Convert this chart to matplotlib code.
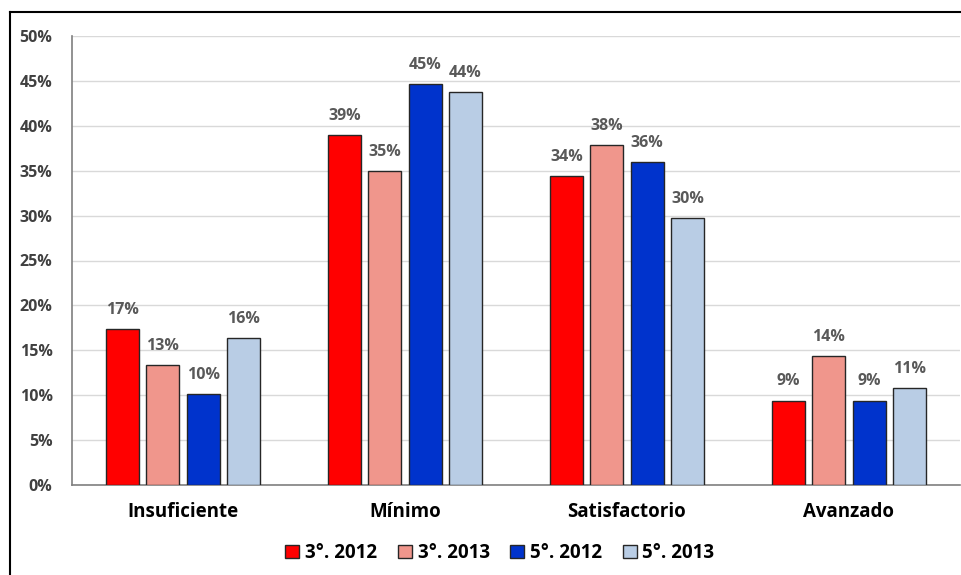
import matplotlib
matplotlib.use("Agg")
import matplotlib.pyplot as plt
from matplotlib.lines import Line2D
import numpy as np

categories = ["Insuficiente", "Mínimo", "Satisfactorio", "Avanzado"]
series_names = ["3°. 2012", "3°. 2013", "5°. 2012", "5°. 2013"]
v_3_2012 = [17.4, 39.0, 34.4, 9.4]
v_3_2013 = [13.4, 35.0, 37.9, 14.4]
v_5_2012 = [10.1, 44.6, 36.0, 9.4]
v_5_2013 = [16.4, 43.8, 29.7, 10.8]
labels_3_2012 = ["17%", "39%", "34%", "9%"]
labels_3_2013 = ["13%", "35%", "38%", "14%"]
labels_5_2012 = ["10%", "45%", "36%", "9%"]
labels_5_2013 = ["16%", "44%", "30%", "11%"]
yticks = [0, 5, 10, 15, 20, 25, 30, 35, 40, 45, 50]
ytick_labels = ["0%", "5%", "10%", "15%", "20%", "25%", "30%", "35%", "40%", "45%", "50%"]

series = [v_3_2012, v_3_2013, v_5_2012, v_5_2013]
labels = [labels_3_2012, labels_3_2013, labels_5_2012, labels_5_2013]
colors = ["#FF0000", "#F0968C", "#0033CC", "#B9CDE5"]

plt.rcParams['font.family'] = ['Open Sans', 'DejaVu Sans']

fig = plt.figure(figsize=(9.62, 5.75), dpi=100)
ax = fig.add_axes([72/962, 1-485/575, (960-72)/962, (485-36)/575])

x = np.arange(len(categories))
step = 0.182
width = 0.15
for i, (vals, labs, col, name) in enumerate(zip(series, labels, colors, series_names)):
    pos = x + (i - 1.5) * step
    bars = ax.bar(pos, vals, width, color=col, edgecolor="#262626", linewidth=1.0, label=name, zorder=3)
    for b, lab in zip(bars, labs):
        ax.annotate(lab, (b.get_x() + b.get_width()/2, b.get_height()),
                    xytext=(0, 8), textcoords="offset points", ha="center", va="bottom",
                    fontsize=11.5, fontweight="bold", color="#595959")

ax.set_xlim(-0.5, 3.5)
ax.set_ylim(0, 50)
ax.set_yticks(yticks)
ax.set_yticklabels(ytick_labels, fontsize=11.5, fontweight="bold", color="#404040")
ax.set_xticks(x)
ax.set_xticklabels(categories, fontsize=13.5, fontweight="bold", color="#000000")
ax.tick_params(axis="y", length=0, pad=14)
ax.tick_params(axis="x", length=0, pad=12)
ax.grid(axis="y", color="#D9D9D9", linewidth=1.0, zorder=0)
ax.set_axisbelow(True)
for s in ["top", "right"]:
    ax.spines[s].set_visible(False)
ax.spines["left"].set_color("#7F7F7F")
ax.spines["bottom"].set_color("#7F7F7F")
ax.spines["left"].set_linewidth(1.2)
ax.spines["bottom"].set_linewidth(1.2)

leg = fig.legend(loc="center", bbox_to_anchor=(500/962, 1-553/575), ncol=4, frameon=False,
                 handlelength=0.75, handleheight=0.75, handletextpad=0.3, columnspacing=1.1,
                 prop={"size": 13.5, "weight": "bold"})

fig.add_artist(Line2D([10/962, 1], [1-12/575, 1-12/575], color="black", linewidth=1.5, transform=fig.transFigure))
fig.add_artist(Line2D([10/962, 10/962], [0, 1-12/575], color="black", linewidth=1.5, transform=fig.transFigure))

fig.savefig("out.png", dpi=100)
